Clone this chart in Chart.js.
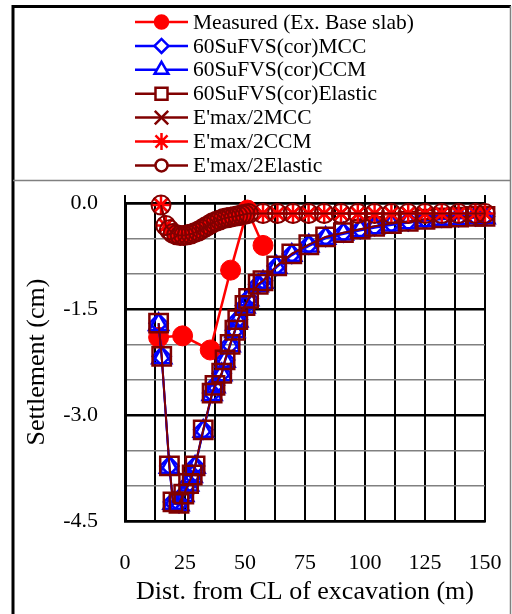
<!DOCTYPE html>
<html>
<head>
<meta charset="utf-8">
<script src="https://cdn.jsdelivr.net/npm/chart.js@4.4.1/dist/chart.umd.min.js"></script>
<style>
html, body { margin: 0; padding: 0; background: #fff; }
canvas { display: block; }
</style>
</head>
<body>
<canvas id="graph1" width="512" height="614"></canvas>
<script>
// distances (m) and settlements (cm)
var measuredX = [14, 24, 35.5, 44, 51, 57.5];
var measuredY = [-1.9, -1.88, -2.08, -0.95, -0.1, -0.6];

var sufvsX = [14, 15.3, 18.5, 20, 22.5, 24.5, 26.5, 28, 29.2, 32.6, 36.3, 37.5, 40.3, 41.7, 43.8, 45.8, 47, 50, 51.5,
    55.5, 57.5, 63.2, 69.5, 76.6, 83.6, 91, 98, 104, 111, 118, 125, 132, 139, 146, 150];
var sufvsMCC = [-1.7, -2.17, -3.72, -4.23, -4.25, -4.12, -3.97, -3.85, -3.72, -3.21, -2.69, -2.58, -2.41, -2.22, -2.0,
    -1.8, -1.65, -1.45, -1.35, -1.15, -1.1, -0.89, -0.72, -0.59, -0.48, -0.42, -0.37, -0.33, -0.29, -0.26, -0.23, -0.21,
    -0.2, -0.19, -0.19];
var sufvsCCM = [-1.72, -2.19, -3.74, -4.25, -4.27, -4.14, -3.99, -3.87, -3.74, -3.23, -2.71, -2.6, -2.43, -2.24, -2.02,
    -1.82, -1.67, -1.47, -1.37, -1.17, -1.12, -0.91, -0.74, -0.61, -0.5, -0.44, -0.39, -0.35, -0.31, -0.28, -0.25, -0.23,
    -0.22, -0.21, -0.21];
var sufvsElastic = [-1.7, -2.17, -3.72, -4.23, -4.25, -4.12, -3.97, -3.85, -3.72, -3.21, -2.69, -2.58, -2.41, -2.22, -2.0,
    -1.8, -1.65, -1.45, -1.35, -1.15, -1.1, -0.89, -0.72, -0.59, -0.48, -0.42, -0.37, -0.33, -0.29, -0.26, -0.23, -0.21,
    -0.2, -0.19, -0.19];

var emaxX = [15, 17, 18.5, 20, 21.5, 23, 24.5, 26, 27.5, 29, 30.5, 32, 33.5, 35, 36.5, 38, 39.5, 41, 42.5, 44, 45.5, 47,
    48.5, 50, 51.5, 57.5, 63.5, 70, 76.5, 83, 90, 97, 104, 111, 118, 125, 132, 139, 146, 150];
var emaxMCC = [-0.03, -0.32, -0.38, -0.43, -0.45, -0.46, -0.46, -0.45, -0.44, -0.42, -0.4, -0.37, -0.34, -0.31, -0.28,
    -0.26, -0.24, -0.22, -0.21, -0.2, -0.19, -0.18, -0.17, -0.16, -0.15, -0.15, -0.15, -0.15, -0.15, -0.15, -0.15, -0.15,
    -0.15, -0.15, -0.15, -0.15, -0.15, -0.15, -0.15, -0.15];
var emaxCCM = emaxMCC.slice();
var emaxElastic = emaxMCC.slice();

var FONT = 'Liberation Serif';

function pts(xs, ys) {
    return xs.map(function (x, i) { return { x: x, y: ys[i] }; });
}

var datasets = [
    { label: 'Measured (Ex. Base slab)', data: pts(measuredX, measuredY), borderColor: '#ff0000',
      backgroundColor: '#ff0000', pointStyle: 'circle', pointRadius: 10, pointBorderWidth: 1, borderWidth: 2.5,
      order: 7, legendRadius: 6.5, legendFill: true },
    { label: '60SuFVS(cor)MCC', data: pts(sufvsX, sufvsMCC), borderColor: '#0000ff', backgroundColor: 'rgba(0,0,0,0)',
      pointStyle: 'rectRot', pointRadius: 9, pointBorderWidth: 2.5, borderWidth: 2, order: 6, legendRadius: 7 },
    { label: '60SuFVS(cor)CCM', data: pts(sufvsX, sufvsCCM), borderColor: '#0000ff', backgroundColor: 'rgba(0,0,0,0)',
      pointStyle: 'triangle', pointRadius: 11, pointBorderWidth: 2.5, borderWidth: 2, order: 5, legendRadius: 8 },
    { label: '60SuFVS(cor)Elastic', data: pts(sufvsX, sufvsElastic), borderColor: '#800000',
      backgroundColor: 'rgba(0,0,0,0)', pointStyle: 'rect', pointRadius: 13, pointBorderWidth: 2.5, borderWidth: 2,
      order: 4, legendRadius: 8.5 },
    { label: "E'max/2MCC", data: pts(emaxX, emaxMCC), borderColor: '#800000', backgroundColor: 'rgba(0,0,0,0)',
      pointStyle: 'crossRot', pointRadius: 10, pointBorderWidth: 2.5, borderWidth: 2, order: 3, legendRadius: 9.5 },
    { label: "E'max/2CCM", data: pts(emaxX, emaxCCM), borderColor: '#ff0000', backgroundColor: 'rgba(0,0,0,0)',
      pointStyle: 'star', pointRadius: 10, pointBorderWidth: 2.5, borderWidth: 2, order: 2, legendRadius: 8.5 },
    { label: "E'max/2Elastic", data: pts(emaxX, emaxElastic), borderColor: '#800000', backgroundColor: 'rgba(0,0,0,0)',
      pointStyle: 'circle', pointRadius: 9.5, pointBorderWidth: 2, borderWidth: 2, order: 1, legendRadius: 6 }
];

// outer frame + separator between legend and plot
var framePlugin = {
    id: 'frame',
    beforeDraw: function (chart) {
        var c = chart.ctx;
        c.save();
        c.fillStyle = '#fff';
        c.fillRect(0, 0, chart.width, chart.height);
        c.strokeStyle = '#000';
        c.lineWidth = 3;
        c.beginPath();
        c.moveTo(13, 614); c.lineTo(13, 6.5); c.lineTo(511, 6.5);
        c.stroke();
        c.strokeStyle = '#808080';
        c.lineWidth = 1.5;
        c.beginPath();
        c.moveTo(510.5, 6); c.lineTo(510.5, 614);
        c.moveTo(13, 180.5); c.lineTo(511, 180.5);
        c.stroke();
        c.restore();
    }
};

// excel style legend: line segment with marker, label to the right
var legendPlugin = {
    id: 'lineLegend',
    afterDraw: function (chart) {
        var c = chart.ctx;
        c.save();
        c.font = '21.5px "' + FONT + '"';
        c.textBaseline = 'middle';
        c.textAlign = 'left';
        chart.data.datasets.forEach(function (ds, i) {
            var y = 22 + i * 23.9;
            c.strokeStyle = ds.borderColor;
            c.lineWidth = 2.5;
            c.beginPath();
            c.moveTo(135, y); c.lineTo(188, y);
            c.stroke();
            c.fillStyle = ds.legendFill ? ds.borderColor : '#fff';
            c.lineWidth = 2.5;
            Chart.helpers.drawPoint(c, { pointStyle: ds.pointStyle, radius: ds.legendRadius, rotation: 0,
                borderWidth: 2.5 }, 161.5, y);
            c.fillStyle = '#000';
            c.fillText(ds.label, 193, y + 1);
        });
        c.restore();
    }
};

function isMajorY(v) {
    return Math.abs(Math.round(v * 10)) % 15 === 0;
}

var ctx = document.getElementById('graph1').getContext('2d');
var config = {
    type: 'line',
    data: { datasets: datasets },
    options: {
        responsive: false,
        animation: false,
        devicePixelRatio: 1,
        layout: { padding: { left: 14, right: 27, top: 195, bottom: 6 } },
        plugins: { legend: { display: false }, tooltip: { enabled: false } },
        elements: { line: { tension: 0, fill: false } },
        datasets: { line: { clip: false } },
        scales: {
            x: {
                type: 'linear', position: 'bottom', min: 0, max: 150,
                ticks: {
                    stepSize: 12.5, autoSkip: false, maxRotation: 0, padding: 29, color: '#000',
                    font: { family: FONT, size: 22 },
                    callback: function (v) { return v % 25 === 0 ? String(v) : ''; }
                },
                grid: { color: '#000', lineWidth: 2, drawTicks: false },
                border: { color: '#000', width: 2.5 },
                title: { display: true, text: 'Dist. from CL of excavation (m)', color: '#000',
                    font: { family: FONT, size: 26 }, padding: { top: 2, bottom: 0 } },
                afterFit: function (s) { s.height = 87; s.paddingLeft = 0; s.paddingRight = 0; }
            },
            x2: {
                type: 'linear', position: 'top', min: 0, max: 150,
                ticks: { stepSize: 25, display: false },
                grid: { drawOnChartArea: false, color: '#000', lineWidth: 2, tickLength: 8 },
                border: { color: '#000', width: 2.5 },
                afterFit: function (s) { s.height = 8; s.paddingLeft = 0; s.paddingRight = 0; }
            },
            y: {
                type: 'linear', min: -4.5, max: 0,
                ticks: {
                    stepSize: 0.5, autoSkip: false, padding: 27, color: '#000',
                    font: { family: FONT, size: 22 },
                    callback: function (v) { return isMajorY(v) ? v.toFixed(1) : ''; }
                },
                grid: {
                    drawTicks: false,
                    color: function (c) { return c.tick && isMajorY(c.tick.value) ? '#000' : '#808080'; },
                    lineWidth: function (c) { return c.tick && isMajorY(c.tick.value) ? 2.5 : 1.5; }
                },
                border: { color: '#000', width: 3 },
                title: { display: true, text: 'Settlement (cm)', color: '#000',
                    font: { family: FONT, size: 26 }, padding: { top: 8, bottom: 0 } },
                afterFit: function (s) { s.width = 111; s.paddingTop = 0; s.paddingBottom = 0; }
            }
        }
    },
    plugins: [framePlugin, legendPlugin]
};
var graph1 = new Chart(ctx, config);
</script>
</body>
</html>
